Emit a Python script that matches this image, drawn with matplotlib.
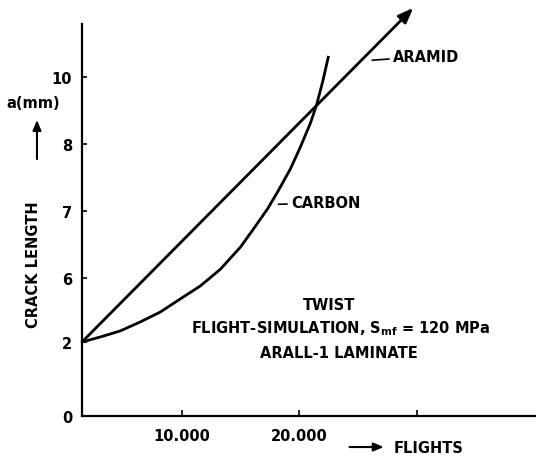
import numpy as np
import matplotlib
matplotlib.use("Agg")
import matplotlib.pyplot as plt

# crack growth data (flights, crack length a in mm)
aramid_flights = [1450, 29700]
aramid_a = [2.0, 12.06]

carbon_flights = [1450, 2990, 4700, 6410, 8120, 9830, 11540, 13250, 14960, 16070,
                  17270, 18120, 19230, 20090, 20940, 21450, 21970, 22480]
carbon_a = [2.0, 2.31, 2.69, 3.25, 3.87, 4.69, 5.50, 6.13, 6.46, 6.73,
            7.03, 7.28, 7.63, 7.96, 8.63, 9.16, 9.85, 10.63]

y_ticks = [0, 2, 6, 7, 8, 10]
y_tick_labels = ['0', '2', '6', '7', '8', '10']
x_ticks = [10000, 20000, 30000]
x_tick_labels = ['10.000', '20.000', '']

# the original y axis is not linear: ticks are drawn roughly evenly spaced
mm_knots = [-10, 0, 2, 6, 7, 8, 10, 20]
pos_knots = [-5.52, 0, 1.104, 2.06, 3.06, 4.06, 5.06, 10.06]


def fwd(y):
    return np.interp(y, mm_knots, pos_knots)


def inv(p):
    return np.interp(p, pos_knots, mm_knots)


plt.rcParams['font.family'] = 'DejaVu Sans'
plt.rcParams['font.weight'] = 'bold'

fig = plt.figure(figsize=(5.36, 4.6), dpi=100)
ax = fig.add_axes([0.153, 0.0935, 0.847, 0.852])
ax.set_yscale('function', functions=(fwd, inv))

ax.set_xlim(1453, 40170)
ax.set_ylim(0, 11.58)

lw = 2.0
ax.plot(carbon_flights, carbon_a, color='black', lw=lw, solid_capstyle='butt',
        solid_joinstyle='round')
ax.annotate('', xy=(aramid_flights[1], aramid_a[1]), xytext=(aramid_flights[0], aramid_a[0]),
            arrowprops=dict(arrowstyle='-|>,head_length=0.9,head_width=0.35', color='black',
                            lw=lw, shrinkA=0, shrinkB=0), annotation_clip=False)

for s in ['top', 'right']:
    ax.spines[s].set_visible(False)
for s in ['left', 'bottom']:
    ax.spines[s].set_linewidth(1.6)

ax.set_yticks(y_ticks)
ax.set_yticklabels(y_tick_labels)
ax.yaxis.set_minor_locator(matplotlib.ticker.NullLocator())
ax.set_xticks(x_ticks)
ax.set_xticklabels(x_tick_labels)
ax.tick_params(axis='y', direction='in', length=3.5, width=1.2, pad=7, labelsize=10.5)
ax.tick_params(axis='x', direction='in', length=4, width=1.2, pad=9, labelsize=10.5)
for lab in ax.get_xticklabels() + ax.get_yticklabels():
    lab.set_fontweight('bold')

# curve labels with short leader lines
fs = 10.5
ax.annotate('ARAMID', xy=(26200, 10.5), xytext=(28000, 10.62), fontsize=fs, fontweight='bold',
            va='center', ha='left',
            arrowprops=dict(arrowstyle='-', color='black', lw=1.2, shrinkA=1, shrinkB=0))
ax.annotate('CARBON', xy=(18200, 7.1), xytext=(19300, 7.12), fontsize=fs, fontweight='bold',
            va='center', ha='left',
            arrowprops=dict(arrowstyle='-', color='black', lw=1.2, shrinkA=1, shrinkB=0))

# test description
ax.text(0.545, 0.285, 'TWIST', transform=ax.transAxes, fontsize=fs, fontweight='bold',
        ha='center', va='center')
ax.text(0.57, 0.225, r'FLIGHT-SIMULATION, S$_{\mathbf{mf}}$ = 120 MPa', transform=ax.transAxes,
        fontsize=fs, fontweight='bold', ha='center', va='center')
ax.text(0.565, 0.163, 'ARALL-1 LAMINATE', transform=ax.transAxes, fontsize=fs, fontweight='bold',
        ha='center', va='center')

# axis titles
fig.text(0.062, 0.424, 'CRACK LENGTH', rotation=90, fontsize=fs, fontweight='bold',
         ha='center', va='center')
fig.text(0.062, 0.774, 'a(mm)', fontsize=fs, fontweight='bold', ha='center', va='center')
arrow_small = dict(arrowstyle='-|>,head_length=0.6,head_width=0.25', color='black',
                   lw=1.5, shrinkA=0, shrinkB=0)
ax.annotate('', xy=(0.069, 0.737), xytext=(0.069, 0.652), xycoords='figure fraction',
            textcoords='figure fraction', arrowprops=arrow_small, annotation_clip=False)
ax.annotate('', xy=(0.716, 0.026), xytext=(0.652, 0.026), xycoords='figure fraction',
            textcoords='figure fraction', arrowprops=arrow_small, annotation_clip=False)
fig.text(0.735, 0.026, 'FLIGHTS', fontsize=fs, fontweight='bold', ha='left', va='center')

fig.savefig('out.png', dpi=100)
